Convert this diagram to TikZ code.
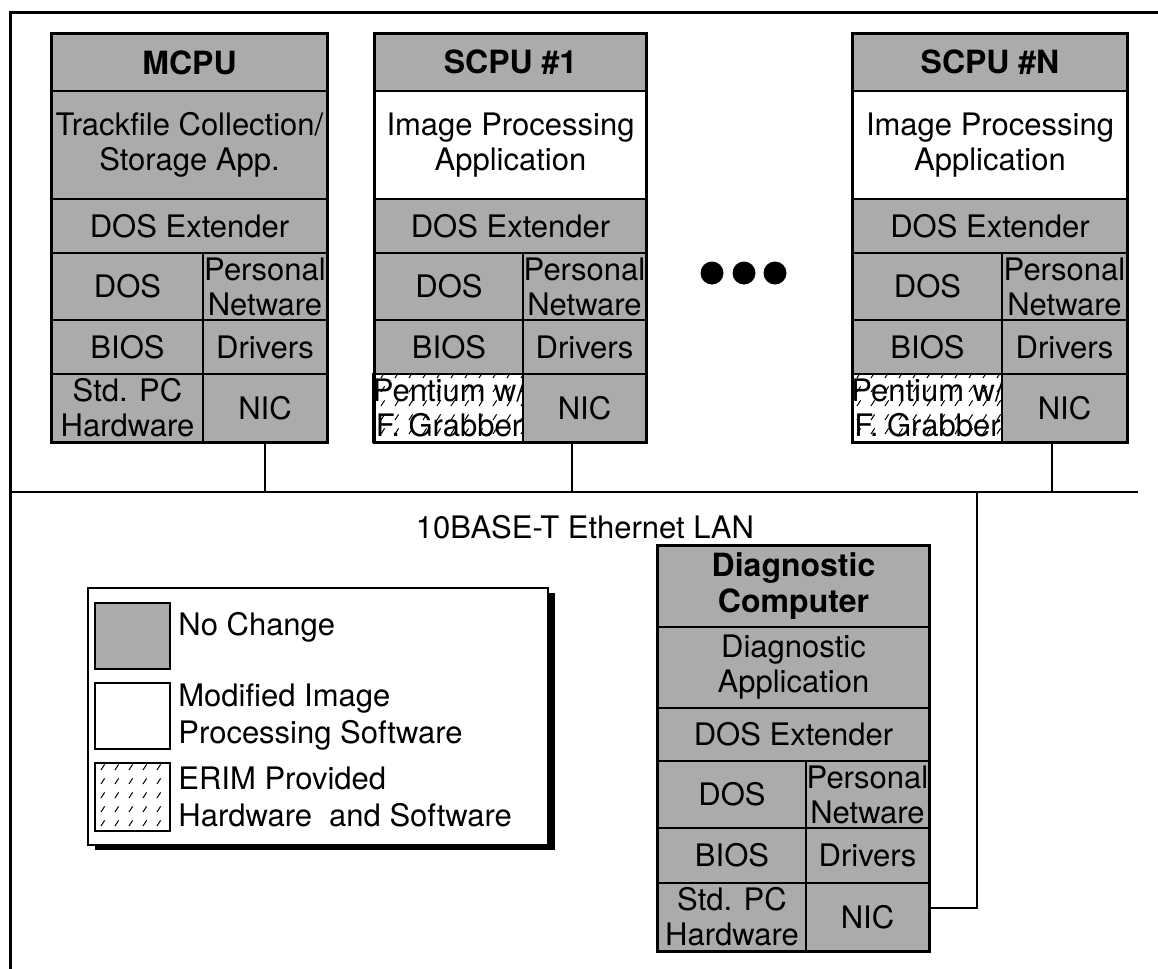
\documentclass[tikz,border=0pt]{standalone}
\usepackage{fontspec}
\setmainfont{TeX Gyre Heros}
\usetikzlibrary{patterns,shadows}

% little slashes of the ERIM cells
\pgfdeclarepatternformonly{erim slashes}{\pgfqpoint{-1pt}{-1pt}}{\pgfqpoint{8pt}{8pt}}{\pgfqpoint{7pt}{7pt}}{%
  \pgfsetlinewidth{0.5pt}%
  \pgfpathmoveto{\pgfqpoint{1.5pt}{1.5pt}}%
  \pgfpathlineto{\pgfqpoint{3.3pt}{4.3pt}}%
  \pgfusepath{stroke}}

\tikzset{
  span/.style n args={4}{minimum width={(#3-#1)*0.5pt}, minimum height={(#4-#2)*0.5pt},
    at={({(#1+#3)/2},{(#2+#4)/2})}},
  cell/.style={draw, line width=0.8pt, inner sep=0pt, align=center,
    font=\fontsize{15.5}{17.5}\selectfont},
  same/.style={cell, fill=black!33},
  newsw/.style={cell, fill=white},
  erim/.style={cell, fill=white, postaction={pattern=erim slashes}},
  title/.style={same, font=\fontsize{16}{18}\selectfont\bfseries},
  stackframe/.style={draw, line width=1.5pt},
  wire/.style={line width=0.7pt},
  dot/.style={circle, fill, inner sep=0pt, minimum size=11.5pt},
  keytext/.style={anchor=west, inner sep=0pt, align=left, font=\fontsize{15.5}{18.5}\selectfont},
}

\begin{document}
\begin{tikzpicture}[x=0.5pt, y=-0.5pt]
\useasboundingbox (0,0) rectangle (1158,969);
\draw[line width=1.5pt] (10,969) -- (10,12) -- (1158,12);

% MCPU
\node[title, span={52}{34}{327}{91}] (mcpu-title) {MCPU};
\node[same, span={52}{91}{327}{199}] (mcpu-app) {Trackfile Collection/\\Storage App.};
\node[same, span={52}{199}{327}{253}] (mcpu-ext) {DOS Extender};
\node[same, span={52}{253}{203}{320}] (mcpu-dos) {DOS};
\node[same, span={203}{253}{327}{320}] (mcpu-pnw) {Personal\\Netware};
\node[same, span={52}{320}{203}{374}] (mcpu-bios) {BIOS};
\node[same, span={203}{320}{327}{374}] (mcpu-drv) {Drivers};
\node[same, span={52}{374}{203}{442}] (mcpu-hw) {Std. PC\\Hardware};
\node[same, span={203}{374}{327}{442}] (mcpu-nic) {NIC};
\path[stackframe] (mcpu-title.north west) rectangle (mcpu-nic.south east);

% SCPU #1
\node[title, span={375}{34}{646}{91}] (scpu1-title) {SCPU \#1};
\node[newsw, span={375}{91}{646}{199}] (scpu1-app) {Image Processing\\Application};
\node[same, span={375}{199}{646}{253}] (scpu1-ext) {DOS Extender};
\node[same, span={375}{253}{523}{320}] (scpu1-dos) {DOS};
\node[same, span={523}{253}{646}{320}] (scpu1-pnw) {Personal\\Netware};
\node[same, span={375}{320}{523}{374}] (scpu1-bios) {BIOS};
\node[same, span={523}{320}{646}{374}] (scpu1-drv) {Drivers};
\node[erim, span={375}{374}{523}{442}] (scpu1-hw) {Pentium w/\\F. Grabber};
\node[same, span={523}{374}{646}{442}] (scpu1-nic) {NIC};
\path[stackframe] (scpu1-title.north west) rectangle (scpu1-nic.south east);

% SCPU #N
\node[title, span={853}{34}{1127}{91}] (scpun-title) {SCPU \#N};
\node[newsw, span={853}{91}{1127}{199}] (scpun-app) {Image Processing\\Application};
\node[same, span={853}{199}{1127}{253}] (scpun-ext) {DOS Extender};
\node[same, span={853}{253}{1002}{320}] (scpun-dos) {DOS};
\node[same, span={1002}{253}{1127}{320}] (scpun-pnw) {Personal\\Netware};
\node[same, span={853}{320}{1002}{374}] (scpun-bios) {BIOS};
\node[same, span={1002}{320}{1127}{374}] (scpun-drv) {Drivers};
\node[erim, span={853}{374}{1002}{442}] (scpun-hw) {Pentium w/\\F. Grabber};
\node[same, span={1002}{374}{1127}{442}] (scpun-nic) {NIC};
\path[stackframe] (scpun-title.north west) rectangle (scpun-nic.south east);

\node[dot] (dot1) at (712,273) {};
\node[dot] (dot2) at (744,273) {};
\node[dot] (dot3) at (775,273) {};

% Diagnostic computer
\node[title, span={658}{546}{929}{627}] (diag-title) {Diagnostic\\Computer};
\node[same, span={658}{627}{929}{708}] (diag-app) {Diagnostic\\Application};
\node[same, span={658}{708}{929}{761}] (diag-ext) {DOS Extender};
\node[same, span={658}{761}{806}{828}] (diag-dos) {DOS};
\node[same, span={806}{761}{929}{828}] (diag-pnw) {Personal\\Netware};
\node[same, span={658}{828}{806}{883}] (diag-bios) {BIOS};
\node[same, span={806}{828}{929}{883}] (diag-drv) {Drivers};
\node[same, span={658}{883}{806}{951}] (diag-hw) {Std. PC\\Hardware};
\node[same, span={806}{883}{929}{951}] (diag-nic) {NIC};
\path[stackframe] (diag-title.north west) rectangle (diag-nic.south east);

% LAN
\coordinate (lan-w) at (10,492);
\coordinate (lan-e) at (1138,492);
\coordinate (tap-1) at (572,492);
\coordinate (tap-n) at (1052,492);
\coordinate (tap-d) at (977,492);
\draw[wire] (lan-w) -- (lan-e);
\draw[wire] (mcpu-nic.south) -- (mcpu-nic.south |- lan-w);
\draw[wire] (tap-1 |- scpu1-nic.south) -- (tap-1);
\draw[wire] (tap-n |- scpun-nic.south) -- (tap-n);
\draw[wire] ([yshift=4.5pt]diag-nic.east) -| (tap-d);
\node[font=\fontsize{15.5}{18}\selectfont] (lan-label) at (585,527) {10BASE-T Ethernet LAN};

% legend
\node[draw, fill=white, line width=0.8pt, span={88}{588}{548}{845},
  drop shadow={shadow xshift=3.5pt, shadow yshift=-2.5pt, fill=black, opacity=1}] (legend) {};
\node[same, span={95}{603}{170}{669}] (key-same) {};
\node[newsw, span={95}{683}{170}{749}] (key-new) {};
\node[erim, span={95}{763}{170}{831}] (key-erim) {};
\node[keytext] (key-same-text) at (178,627) {No Change};
\node[keytext] (key-new-text) at (178,717) {Modified Image\\Processing Software};
\node[keytext] (key-erim-text) at (178,797) {ERIM Provided\\Hardware\ \ and Software};
\end{tikzpicture}
\end{document}
